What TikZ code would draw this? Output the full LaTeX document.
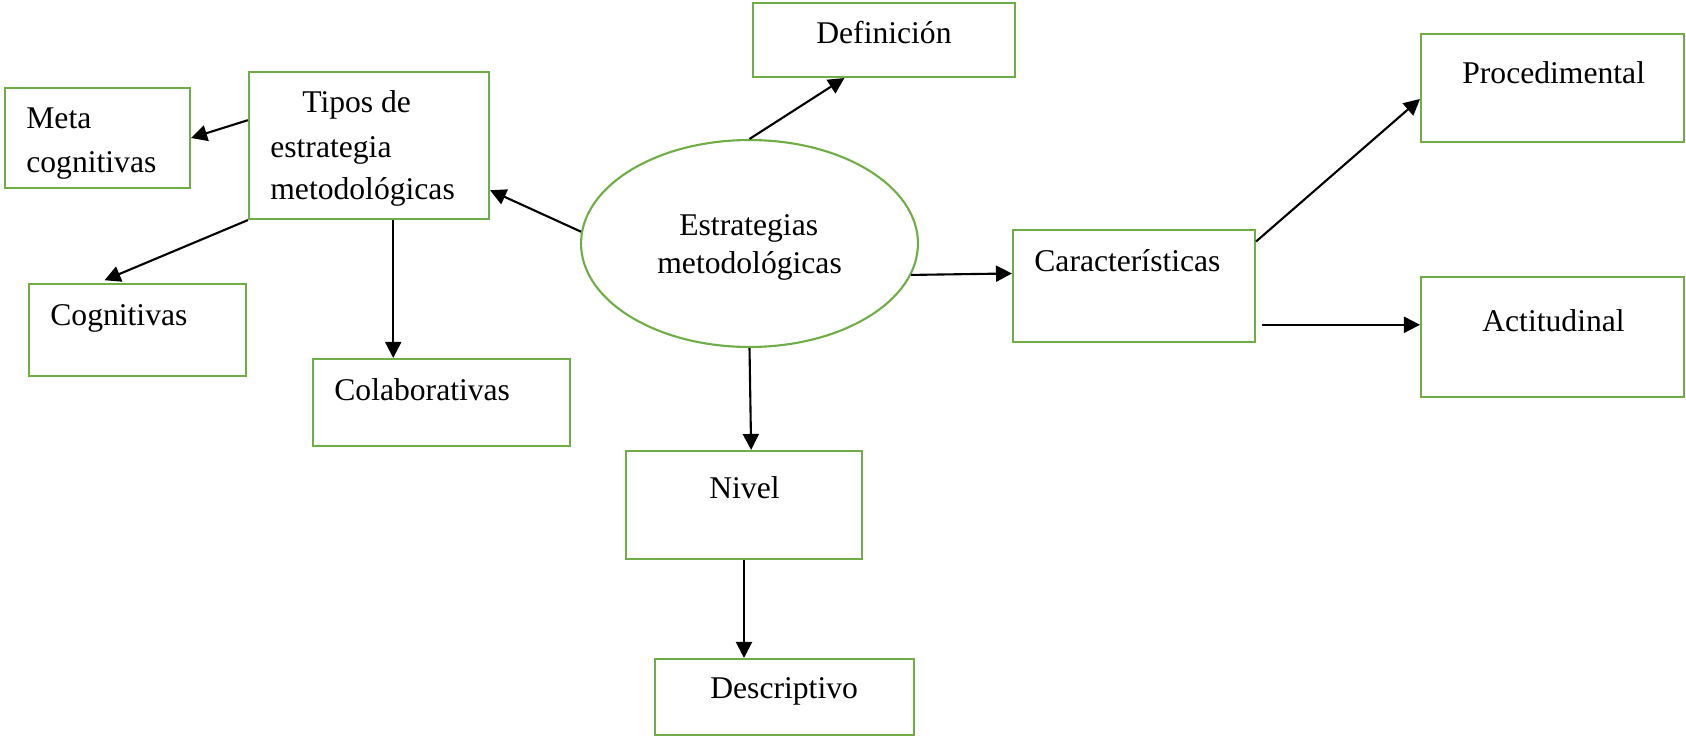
\documentclass[tikz,border=0pt]{standalone}
\usepackage{fontspec}
\setmainfont{Liberation Serif}
\usetikzlibrary{arrows.meta,shapes.geometric,fit,calc}
\definecolor{boxgreen}{RGB}{112,173,71}
\tikzset{
	box/.style={draw=boxgreen, line width=1.2pt, inner sep=0pt},
	lbl/.style={font=\fontsize{18}{25}\selectfont, inner sep=0pt, anchor=base west},
	arr/.style={-{Triangle[length=0.32cm,width=0.32cm]}, line width=1.2pt}
}
\begin{document}
\begin{tikzpicture}[x=0.02cm, y=-0.02cm]
			\useasboundingbox (0,0) rectangle (1686,737);
			% boxes
			\node[box, fit={(5,88) (190,188)}] (meta) {};
			\node[box, fit={(249,72) (489,219)}] (tipos) {};
			\node[box, fit={(29,284) (246,376)}] (cog) {};
			\node[box, fit={(313,359) (570,446)}] (colab) {};
			\node[box, fit={(753,3) (1015,77)}] (defin) {};
			\node[box, ellipse, minimum width=6.74cm, minimum height=4.14cm] (estr) at (749.5,243.5) {};
			\node[box, fit={(1013,230) (1255,342)}] (carac) {};
			\node[box, fit={(1421,34) (1684,142)}] (proc) {};
			\node[box, fit={(1421,277) (1684,397)}] (actit) {};
			\node[box, fit={(626,451) (862,559)}] (nivel) {};
			\node[box, fit={(655,659) (914,735)}] (descr) {};
			% texts
			\node[lbl] (metaA) at (26,128) {Meta};
			\node[lbl] (metaB) at (26,172) {cognitivas};
			\node[lbl] (tiposA) at (302,112) {Tipos de};
			\node[lbl] (tiposB) at (270,157) {estrategia};
			\node[lbl] (tiposC) at (270,199) {metodológicas};
			\node[lbl] (cogA) at (50,325) {Cognitivas};
			\node[lbl] (colabA) at (334,400) {Colaborativas};
			\node[lbl] (definA) at (816,43) {Definición};
			\node[lbl] (estrA) at (679,235) {Estrategias};
			\node[lbl] (estrB) at (657,273) {metodológicas};
			\node[lbl] (caracA) at (1034,271) {Características};
			\node[lbl] (procA) at (1462,83) {Procedimental};
			\node[lbl] (actitA) at (1482,331) {Actitudinal};
			\node[lbl] (nivelA) at (709,498) {Nivel};
			\node[lbl] (descrA) at (710,698) {Descriptivo};
			% arrows
			\draw[arr] ($(tipos.north west)!0.33!(tipos.south west)$) -- (meta.east);
			\draw[arr, shorten >=0.14cm] (tipos.south west) -- ($(cog.north west)!0.32!(cog.north east)$);
			\coordinate (tc) at ($(tipos.south west)!0.6!(tipos.south east)$);
			\draw[arr] (tc) -- (tc |- colab.north);
			\draw[arr] (estr.176) -- ($(tipos.north east)!0.8!(tipos.south east)$);
			\draw[arr] (estr.north) -- ($(defin.south west)!0.35!(defin.south east)$);
			\draw[arr] (estr.-11) -- ($(carac.north west)!0.39!(carac.south west)$);
			\draw[arr] (estr.south) -- ($(nivel.north west)!0.53!(nivel.north east)$);
			\draw[arr] (nivel.south) -- (nivel.south |- descr.north);
			\draw[arr] ($(carac.north east)!0.11!(carac.south east)$) -- ($(proc.north west)!0.6!(proc.south west)$);
			\coordinate (ca) at ($(carac.north east)!0.84!(carac.south east)$);
			\draw[arr, shorten <=0.12cm] (ca) -- (ca -| actit.west);
		\end{tikzpicture}
\end{document}
